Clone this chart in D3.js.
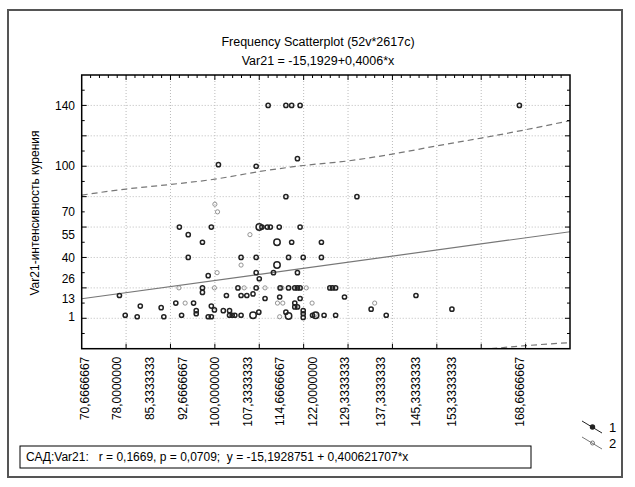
<!DOCTYPE html>
<html>
<head>
<meta charset="utf-8">
<script src="https://cdn.jsdelivr.net/npm/d3@7"></script>
<style>
  body { margin: 0; background: #fff; }
  svg text { font-family: "Liberation Sans", Arial, sans-serif; fill: #000; }
</style>
</head>
<body>
<svg id="chart" width="635" height="487"></svg>
<script>
// x axis labels (as printed) and y axis labels
var xLabels = ["70,6666667", "78,0000000", "85,3333333", "92,6666667", "100,0000000",
  "107,3333333", "114,6666667", "122,0000000", "129,3333333", "137,3333333",
  "145,3333333", "153,3333333", "168,6666667"];
var yLabels = [1, 13, 26, 40, 55, 70, 100, 140];

// regression fit Var21 = a + b*x
var fitIntercept = -15.1929;
var fitSlope = 0.4006;

// dashed band [x, y]
var upperBand = [[70, 81], [80, 85], [90, 88], [100, 91.5], [110, 96.5], [120, 100.5],
  [130, 103.5], [140, 108], [150, 113.4], [160, 118.5], [170, 124], [180, 130]];
var lowerBand = [[160, -20.6], [170, -18], [180, -16]];

// series 1 (dark markers) [x, y, freq]
var series1 = [
  [112, 140, 1], [116, 140, 1], [117.3, 140, 1], [119.2, 140, 1], [168.6, 140, 1],
  [100.8, 101, 1], [109.3, 100, 1], [118.6, 105, 1], [116, 80, 1], [132, 80, 1],
  [92, 60, 1], [99.2, 60, 1], [110, 60, 2], [110.6, 60, 1], [111.8, 60, 1], [112.5, 60, 1],
  [114.5, 60, 1], [119.2, 60, 1], [94, 55, 1],
  [97.2, 50, 1], [114, 50, 2], [117.3, 50, 1], [124, 50, 1],
  [94, 40, 1], [105.9, 40, 1], [109.3, 40, 1], [116.6, 40, 1], [119.9, 40, 1], [124, 40, 1],
  [114, 35, 2], [98.5, 28, 1], [109.3, 30, 1], [110, 26, 1], [113.2, 30, 1], [118.6, 30, 1],
  [78.5, 15, 1], [97.2, 20, 1], [105.2, 20, 1], [109.3, 20, 1], [114.7, 20, 1], [116.6, 20, 1],
  [118, 20, 1], [118.6, 20, 1], [119.2, 20, 1], [125.9, 20, 1], [126.5, 20, 1], [127.2, 20, 1],
  [97.2, 17, 1], [102.6, 15, 1], [105.9, 15, 1], [107.2, 15, 1], [108.6, 16, 1], [111.3, 13, 1],
  [114.6, 14, 1], [119.2, 13, 1], [129.2, 14, 1], [145.3, 15, 1],
  [91.2, 10, 1], [95.2, 10, 1], [118, 10, 1], [99.2, 8, 1], [118, 7.5, 1], [118.6, 7.5, 1],
  [83.2, 8, 1], [87.9, 7, 1],
  [95.8, 5, 1], [95.8, 3, 1], [99.9, 5.5, 1], [101.9, 5, 1], [103.3, 5, 1], [116, 4, 1],
  [119.9, 5, 1], [119.9, 3, 1], [109.9, 4, 1], [135.2, 6, 1], [153.4, 6, 1],
  [79.8, 2, 1], [82.5, 1, 1], [88.5, 1, 1], [92.5, 2, 1], [98.5, 1, 1], [99.2, 1, 1],
  [103.3, 2, 1], [103.9, 2, 1], [104.5, 2, 1], [105.9, 2, 1], [108.6, 2, 2], [116.6, 1.5, 2],
  [119.9, 0.6, 1], [122, 2, 1], [122.7, 2, 2], [124.6, 2, 1], [127.2, 2, 1], [138.6, 2, 1]
];

// series 2 (light markers) [x, y, freq]
var series2 = [
  [100, 75, 1], [100.6, 70, 1], [107.9, 55, 1], [105.9, 35, 1], [100.5, 30, 1],
  [91.9, 20, 1], [99.9, 20, 1], [106.6, 20, 1], [111.3, 20, 1], [115.1, 20, 1], [120.6, 20, 1],
  [93.3, 10, 1], [114.1, 10, 1], [115.3, 10, 1], [121.9, 10, 1], [136, 10, 1],
  [114.6, 1, 1], [122.6, 2.5, 1]
];

var svg = d3.select("#chart");
var plot = {left: 81.7, right: 570, top: 75, bottom: 348.7};

var x = d3.scaleLinear().domain([70, 180]).range([plot.left, plot.right]);
var y = d3.scaleLinear().domain([-20, 160]).range([plot.bottom, plot.top]);

// outer frame
svg.append("rect")
  .attr("x", 8).attr("y", 10).attr("width", 614).attr("height", 467)
  .attr("fill", "none").attr("stroke", "#555").attr("stroke-width", 2);

// titles
svg.append("text").attr("x", 318).attr("y", 46).attr("text-anchor", "middle")
  .attr("font-size", 12.5).text("Frequency Scatterplot (52v*2617c)");
svg.append("text").attr("x", 318).attr("y", 65).attr("text-anchor", "middle")
  .attr("font-size", 12.5).text("Var21 = -15,1929+0,4006*x");

// grid
var gx = d3.range(80, 171, 10), gy = d3.range(0, 141, 20);
svg.append("g").selectAll("line").data(gx).join("line")
  .attr("x1", function (d) { return x(d); }).attr("x2", function (d) { return x(d); })
  .attr("y1", plot.top).attr("y2", plot.bottom)
  .attr("stroke", "#bbb").attr("stroke-dasharray", "1,2");
svg.append("g").selectAll("line").data(gy).join("line")
  .attr("y1", function (d) { return y(d); }).attr("y2", function (d) { return y(d); })
  .attr("x1", plot.left).attr("x2", plot.right)
  .attr("stroke", "#bbb").attr("stroke-dasharray", "1,2");

// clip
svg.append("clipPath").attr("id", "clip").append("rect")
  .attr("x", plot.left).attr("y", plot.top)
  .attr("width", plot.right - plot.left).attr("height", plot.bottom - plot.top);
var inner = svg.append("g").attr("clip-path", "url(#clip)");

// bands + fit
var line = d3.line().x(function (d) { return x(d[0]); }).y(function (d) { return y(d[1]); })
  .curve(d3.curveMonotoneX);
[upperBand, lowerBand].forEach(function (band) {
  inner.append("path").datum(band).attr("d", line)
    .attr("fill", "none").attr("stroke", "#777").attr("stroke-width", 1.2)
    .attr("stroke-dasharray", "6,4");
});
var xd = x.domain();
inner.append("path")
  .datum(xd.map(function (v) { return [v, fitIntercept + fitSlope * v]; }))
  .attr("d", line).attr("fill", "none").attr("stroke", "#777").attr("stroke-width", 1.2);

// points
function drawSeries(data, color, width) {
  inner.append("g").selectAll("circle").data(data).join("circle")
    .attr("cx", function (d) { return x(d[0]); })
    .attr("cy", function (d) { return y(d[1]); })
    .attr("r", function (d) { return d[2] > 1 ? 3.2 : 2.1; })
    .attr("fill", "none").attr("stroke", color).attr("stroke-width", width);
}
drawSeries(series2, "#888", 0.9);
drawSeries(series1, "#222", 1.5);

// frame + inward ticks
svg.append("rect")
  .attr("x", plot.left).attr("y", plot.top)
  .attr("width", plot.right - plot.left).attr("height", plot.bottom - plot.top)
  .attr("fill", "none").attr("stroke", "#000").attr("stroke-width", 1.5);

var ticks = svg.append("g").attr("stroke", "#000").attr("stroke-width", 1);
d3.range(72, 180, 2).forEach(function (v) {
  var len = v % 10 === 0 ? 5 : 3;
  ticks.append("line").attr("x1", x(v)).attr("x2", x(v))
    .attr("y1", plot.top).attr("y2", plot.top + len);
  if (v % 10 === 0) {
    ticks.append("line").attr("x1", x(v)).attr("x2", x(v))
      .attr("y1", plot.bottom).attr("y2", plot.bottom - len);
  }
});
d3.range(-10, 160, 10).forEach(function (v) {
  var len = v % 20 === 0 ? 5 : 3;
  ticks.append("line").attr("x1", plot.left).attr("x2", plot.left + len)
    .attr("y1", y(v)).attr("y2", y(v));
  ticks.append("line").attr("x1", plot.right).attr("x2", plot.right - len)
    .attr("y1", y(v)).attr("y2", y(v));
});

// tick labels
svg.append("g").selectAll("text").data(yLabels).join("text")
  .attr("x", 75).attr("y", function (d) { return y(d); }).attr("dy", "0.35em")
  .attr("text-anchor", "end").attr("font-size", 12).text(function (d) { return d; });

svg.append("g").selectAll("text").data(xLabels).join("text")
  .attr("transform", function (d) {
    return "translate(" + x(+d.replace(",", ".")) + "," + (plot.bottom + 8) + ") rotate(-90)";
  })
  .attr("dy", "0.35em").attr("text-anchor", "end").attr("font-size", 12)
  .text(function (d) { return d; });

// y title
svg.append("text").attr("transform", "translate(39,213) rotate(-90)")
  .attr("text-anchor", "middle").attr("font-size", 12)
  .text("Var21-интенсивность курения");

// stats box
svg.append("rect").attr("x", 20).attr("y", 446).attr("width", 511).attr("height", 22)
  .attr("fill", "#fff").attr("stroke", "#000").attr("stroke-width", 1);
svg.append("text").attr("x", 26).attr("y", 461).attr("font-size", 12).attr("xml:space", "preserve")
  .text("САД:Var21:   r = 0,1669, p = 0,0709;  y = -15,1928751 + 0,400621707*x");

// legend
var legend = [{name: "1", color: "#222", width: 1.4, fill: "#222"},
  {name: "2", color: "#777", width: 1, fill: "none"}];
legend.forEach(function (d, i) {
  var g = svg.append("g").attr("transform", "translate(0," + (i * 16) + ")");
  g.append("line").attr("x1", 582).attr("y1", 421).attr("x2", 602).attr("y2", 433)
    .attr("stroke", d.color).attr("stroke-width", 1);
  g.append("circle").attr("cx", 592.5).attr("cy", 427).attr("r", 2)
    .attr("fill", d.fill).attr("stroke", d.color).attr("stroke-width", d.width);
  g.append("text").attr("x", 609).attr("y", 432).attr("font-size", 13).text(d.name);
});
</script>
</body>
</html>
